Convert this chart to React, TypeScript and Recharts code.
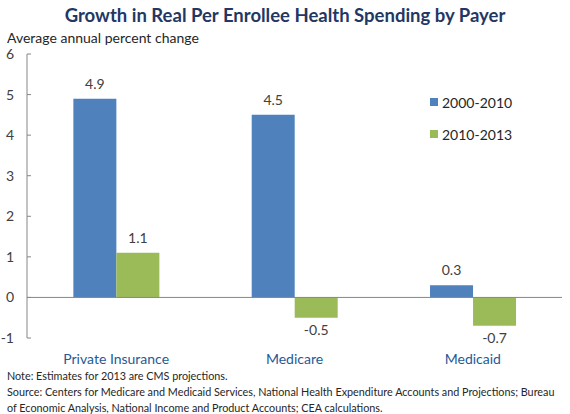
import React from 'react';
import { BarChart, Bar, XAxis, YAxis, ReferenceLine, LabelList, Legend } from 'recharts';

const payers = ['Private Insurance', 'Medicare', 'Medicaid'];
const growth2000to2010 = [4.9, 4.5, 0.3];
const growth2010to2013 = [1.1, -0.5, -0.7];
const yTicks = [-1, 0, 1, 2, 3, 4, 5, 6];

const data = payers.map((name, i) => ({
  name,
  early: growth2000to2010[i],
  late: growth2010to2013[i],
}));

const FONT = 'Lato, "Open Sans", sans-serif';
const BLUE = '#4F81BD';
const GREEN = '#9BBB59';

const ValueLabel = (props: any) => {
  const { x, y, width, height, value } = props;
  const top = Math.min(y, y + height);
  const bottom = Math.max(y, y + height);
  const ty = value >= 0 ? top - 10 : bottom + 17;
  return (
    <text x={x + width / 2} y={ty} textAnchor="middle" fontSize={14} fill="#404040" fontFamily={FONT}>
      {value.toFixed(1)}
    </text>
  );
};

// axis line sits at x = 27; labels right-aligned at x = 14
const YTick = (props: any) => {
  const { y, payload } = props;
  return (
    <g>
      <line x1={27} x2={31} y1={y} y2={y} stroke="#868686" />
      <text x={14} y={y + 5} textAnchor="end" fontSize={14} fill="#404040" fontFamily={FONT}>
        {payload.value}
      </text>
    </g>
  );
};

const LegendBox = () => (
  <div style={{ fontFamily: FONT, fontSize: 14, color: '#262626' }}>
    {[
      { c: BLUE, t: '2000-2010' },
      { c: GREEN, t: '2010-2013' },
    ].map((e) => (
      <div key={e.t} style={{ display: 'flex', alignItems: 'center', height: 32 }}>
        <span style={{ width: 8, height: 8, background: e.c, display: 'inline-block', marginRight: 4 }} />
        {e.t}
      </div>
    ))}
  </div>
);

export default function App() {
  return (
    <div style={{ position: 'absolute', left: 0, top: 0, width: 570, height: 414, background: '#fff', fontFamily: FONT }}>
      <div style={{ position: 'absolute', top: 4, width: 570, textAlign: 'center', fontSize: 18.5, fontWeight: 700, color: '#1F3864' }}>
        Growth in Real Per Enrollee Health Spending by Payer
      </div>
      <div style={{ position: 'absolute', top: 29, left: 7, fontSize: 14, color: '#262626' }}>
        Average annual percent change
      </div>
      <BarChart
        width={570}
        height={414}
        data={data}
        margin={{ top: 54, right: 8, bottom: 0, left: 0 }}
        barCategoryGap="26%"
        barGap={0}
      >
        <YAxis
          type="number"
          domain={[-1, 6]}
          ticks={yTicks}
          width={27}
          interval={0}
          axisLine={{ stroke: '#868686' }}
          tickLine={false}
          tick={<YTick />}
        />
        <XAxis
          dataKey="name"
          height={76}
          axisLine={false}
          tickLine={false}
          tickMargin={10}
          tick={{ fontSize: 14, fill: '#1F5A96', fontFamily: FONT }}
        />
        <ReferenceLine y={0} stroke="#868686" />
        <Legend
          verticalAlign="middle"
          align="center"
          content={<LegendBox />}
          wrapperStyle={{ top: 86, left: 430, width: 120 }}
        />
        <Bar dataKey="early" name="2000-2010" fill={BLUE} isAnimationActive={false}>
          <LabelList dataKey="early" content={<ValueLabel />} />
        </Bar>
        <Bar dataKey="late" name="2010-2013" fill={GREEN} isAnimationActive={false}>
          <LabelList dataKey="late" content={<ValueLabel />} />
        </Bar>
      </BarChart>
      <div style={{ position: 'absolute', top: 368, left: 7, fontSize: 10.8, lineHeight: '16px', color: '#262626', whiteSpace: 'nowrap' }}>
        <div>Note: Estimates for 2013 are CMS projections.</div>
        <div>Source: Centers for Medicare and Medicaid Services, National Health Expenditure Accounts and Projections; Bureau</div>
        <div>of Economic Analysis, National Income and Product Accounts; CEA calculations.</div>
      </div>
    </div>
  );
}
